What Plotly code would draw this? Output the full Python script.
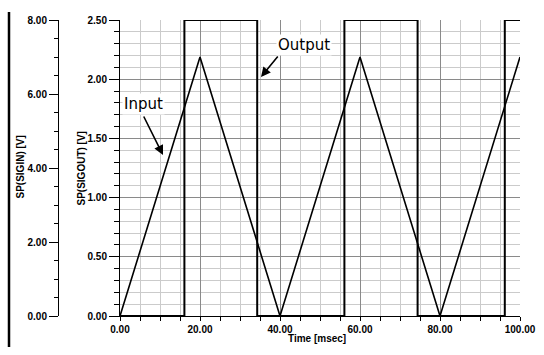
import plotly.graph_objects as go

# ---- data ----
in_time = [0, 20, 40, 60, 80, 100]            # msec
in_volt = [0.0, 7.0, 0.0, 7.0, 0.0, 7.0]      # SP(SIGIN) [V]

out_time = [0, 16.1, 16.1, 34.3, 34.3, 56.1, 56.1, 74.4, 74.4, 96.2, 96.2, 100]
out_volt = [0, 0, 2.5, 2.5, 0, 0, 2.5, 2.5, 0, 0, 2.5, 2.5]   # SP(SIGOUT) [V]

x_title = "Time [msec]"
y_in_title = "SP(SIGIN) [V]"
y_out_title = "SP(SIGOUT) [V]"

W, H = 544, 355
L_PX, R_PX, T_PX, B_PX = 120, 520, 20, 316

tickfont = dict(family="Liberation Sans, Arial, sans-serif", size=10, color="black", weight="bold")
major_grid = "#8a8a8a"
minor_grid = "#cbcbcb"

fig = go.Figure()
fig.add_trace(go.Scatter(x=out_time, y=out_volt, mode="lines", yaxis="y",
                         line=dict(color="black", width=2), showlegend=False))
fig.add_trace(go.Scatter(x=in_time, y=in_volt, mode="lines", yaxis="y2",
                         line=dict(color="black", width=1.6), showlegend=False))

fig.update_layout(
    width=W, height=H,
    margin=dict(l=0, r=0, t=T_PX, b=H - B_PX, pad=0, autoexpand=False),
    paper_bgcolor="white", plot_bgcolor="white",
    xaxis=dict(domain=[L_PX / W, R_PX / W], range=[0, 100], tick0=0, dtick=20,
               tickformat=".2f", ticks="outside", ticklen=4, tickcolor="black",
               showline=True, linecolor="black", linewidth=1, automargin=False,
               showgrid=True, gridcolor=major_grid, gridwidth=1, zeroline=False,
               tickfont=tickfont,
               minor=dict(dtick=5, ticks="outside", ticklen=4, tickcolor="black",
                          showgrid=True, gridcolor=minor_grid, gridwidth=1)),
    yaxis=dict(domain=[0, 1], range=[0, 2.5], tick0=0, dtick=0.5, side="left",
               tickformat=".2f", ticks="outside", ticklen=10, tickcolor="black",
               showline=True, linecolor="black", linewidth=1, automargin=False,
               showgrid=True, gridcolor=major_grid, gridwidth=1, zeroline=False,
               tickfont=tickfont,
               minor=dict(dtick=0.1, ticks="outside", ticklen=5, tickcolor="black",
                          showgrid=True, gridcolor=minor_grid, gridwidth=1)),
    yaxis2=dict(overlaying="y", anchor="free", position=58 / W, side="left",
                range=[0, 8], tick0=0, dtick=2, tickformat=".2f", automargin=False,
                ticks="outside", ticklen=9, tickcolor="black",
                showline=True, linecolor="black", linewidth=1,
                showgrid=False, zeroline=False, tickfont=tickfont,
                minor=dict(dtick=0.5, ticks="outside", ticklen=4, tickcolor="black",
                           showgrid=False)),
)

def py(p):  # pixel y -> paper y
    return (B_PX - p) / (B_PX - T_PX)

def px(p):
    return p / W

titlefont = dict(family="Liberation Sans, Arial, sans-serif", size=10, color="black", weight="bold")
fig.add_annotation(text=y_in_title, xref="paper", yref="paper", x=px(20), y=py(167.5),
                   textangle=-90, showarrow=False, font=titlefont, xanchor="center", yanchor="middle")
fig.add_annotation(text=y_out_title, xref="paper", yref="paper", x=px(80.5), y=py(169),
                   textangle=-90, showarrow=False, font=titlefont, xanchor="center", yanchor="middle")
fig.add_annotation(text=x_title, xref="paper", yref="paper", x=px(317), y=py(338),
                   showarrow=False, font=titlefont, xanchor="center", yanchor="middle")

# labels with arrows
labfont = dict(family="DejaVu Sans, Verdana, sans-serif", size=15, color="black")
def dx(p):
    return (p - L_PX) / 4.0
def dy(p):
    return (B_PX - p) / (B_PX - T_PX) * 2.5

fig.add_annotation(text="", x=dx(163), y=dy(155), xref="x", yref="y",
                   ax=-20, ay=-40, showarrow=True, arrowhead=2, arrowsize=1.2,
                   arrowwidth=1.6, arrowcolor="black")
fig.add_annotation(text="", x=dx(261), y=dy(77), xref="x", yref="y",
                   ax=18, ay=-22, showarrow=True, arrowhead=2, arrowsize=1.2,
                   arrowwidth=1.6, arrowcolor="black")
fig.add_annotation(text="Input", x=dx(143.5), y=dy(104), xref="x", yref="y",
                   showarrow=False, font=labfont, bgcolor="white", borderpad=1)
fig.add_annotation(text="Output", x=dx(303.5), y=dy(45), xref="x", yref="y",
                   showarrow=False, font=labfont, bgcolor="white", borderpad=1)

# thick frame line at far left
fig.add_shape(type="line", xref="paper", yref="paper", x0=px(9), x1=px(9),
              y0=py(347), y1=py(12), line=dict(color="black", width=2.5))

fig.write_html("out.html")
